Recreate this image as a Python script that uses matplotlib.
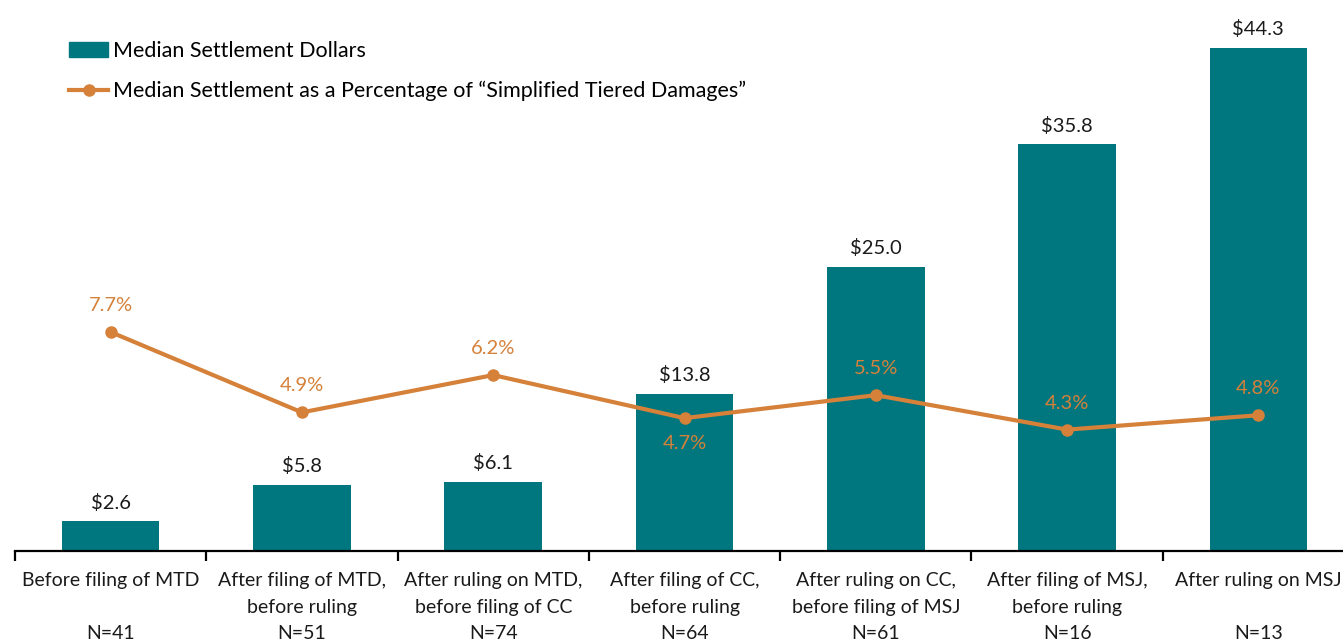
import numpy as np
import matplotlib.pyplot as plt
from matplotlib.lines import Line2D
from matplotlib.patches import Patch

plt.rcParams["font.family"] = ["Lato", "DejaVu Sans"]

stages = [
    "Before filing of MTD\n\nN=41",
    "After filing of MTD,\nbefore ruling\nN=51",
    "After ruling on MTD,\nbefore filing of CC\nN=74",
    "After filing of CC,\nbefore ruling\nN=64",
    "After ruling on CC,\nbefore filing of MSJ\nN=61",
    "After filing of MSJ,\nbefore ruling\nN=16",
    "After ruling on MSJ\n\nN=13",
]
dollars = [2.6, 5.8, 6.1, 13.8, 25.0, 35.8, 44.3]
pct = [7.7, 4.9, 6.2, 4.7, 5.5, 4.3, 4.8]
pct_below = [False, False, False, True, False, False, False]

teal = "#00767E"
orange = "#D5813A"

W, H = 1343, 644
fig = plt.figure(figsize=(W / 100, H / 100), dpi=100)
ax = fig.add_axes([15 / W, (H - 551) / H, 1339 / W, 551 / H])

x = np.arange(len(stages))
ax.bar(x, dollars, width=0.51, color=teal, zorder=2)
for xi, v in zip(x, dollars):
    ax.annotate(f"${v:.1f}", (xi, v), xytext=(0, 7), textcoords="offset points",
                ha="center", va="bottom", fontsize=14.5, color="#1a1a1a")

ax.set_xlim(-0.5, len(stages) - 0.5)
ax.set_ylim(0, 48.5)
ax.set_yticks([])
for s in ["top", "left", "right"]:
    ax.spines[s].set_visible(False)
ax.spines["bottom"].set_linewidth(1.6)
ax.set_xticks(x)
ax.set_xticklabels(stages, fontsize=14, linespacing=1.7, color="#1a1a1a")
ax.tick_params(axis="x", which="major", length=0, pad=15)
ax.set_xticks(np.arange(-0.5, len(stages), 1.0), minor=True)
ax.tick_params(axis="x", which="minor", length=7, width=1.6)

ax2 = ax.twinx()
ax2.plot(x, pct, color=orange, lw=3, marker="o", ms=8, zorder=3)
ax2.set_ylim(0.07, 19.27)
ax2.set_yticks([])
for s in ["top", "left", "right", "bottom"]:
    ax2.spines[s].set_visible(False)
for xi, v, below in zip(x, pct, pct_below):
    off = -12 if below else 13
    ax2.annotate(f"{v:.1f}%", (xi, v), xytext=(0, off), textcoords="offset points",
                 ha="center", va="top" if below else "bottom", fontsize=14.5, color=orange)

handles = [
    Patch(color=teal, label="Median Settlement Dollars"),
    Line2D([0], [0], color=orange, lw=3, marker="o", ms=8,
           label="Median Settlement as a Percentage of \u201cSimplified Tiered Damages\u201d"),
]
fig.legend(handles=handles, loc="upper left", bbox_to_anchor=(60 / W, 1 - 32 / H),
           frameon=False, fontsize=15.5, handlelength=1.85, handletextpad=0.2,
           labelspacing=0.95, borderaxespad=0)

fig.savefig("out.png", dpi=100)
